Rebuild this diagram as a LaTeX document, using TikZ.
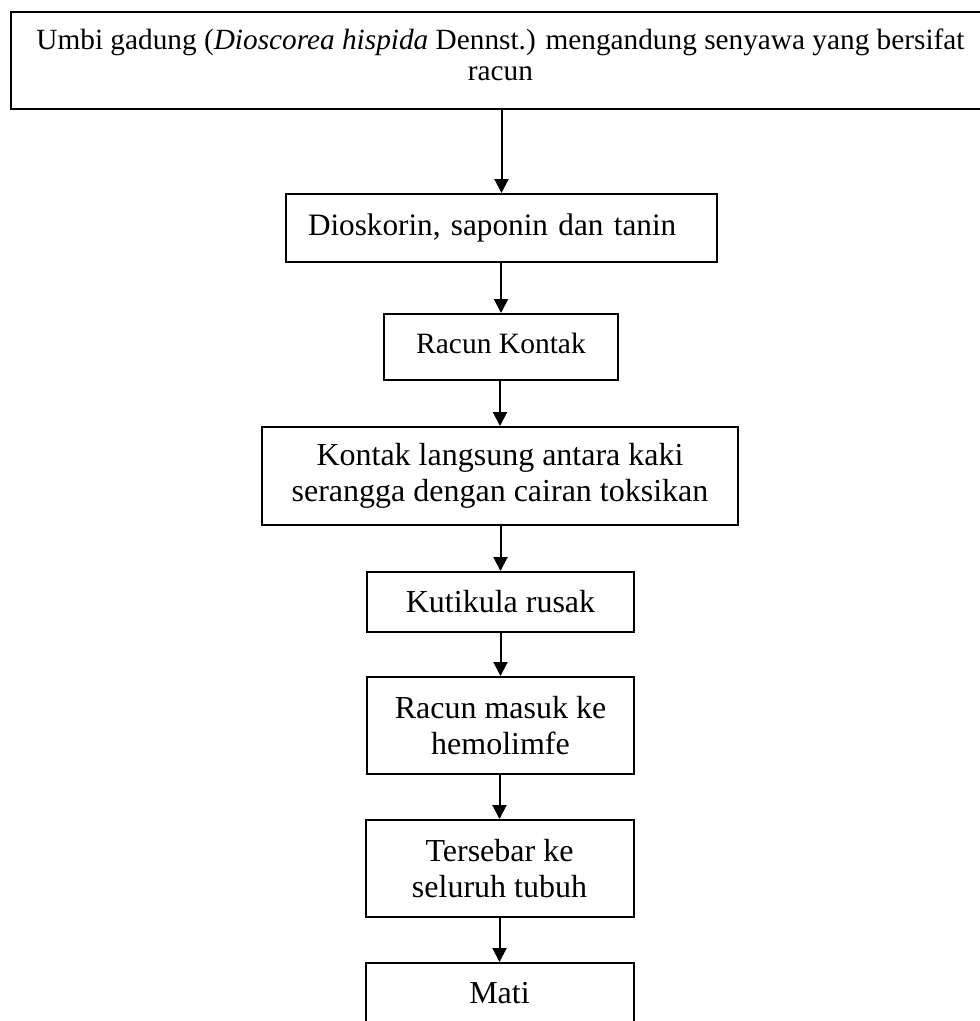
\documentclass[tikz,border=0pt]{standalone}
\usepackage{fontspec}
\setmainfont{Liberation Serif}
\usetikzlibrary{arrows.meta}
\begin{document}
\begin{tikzpicture}[x=1pt,y=-1pt,
  box/.style={draw=black, line width=2pt, align=center, inner sep=0pt,
    font=\fontsize{32}{36}\selectfont},
  flow/.style={line width=2pt, -{Triangle[length=14pt,width=14pt]}}]
\clip (0,0) rectangle (980,1021);
\fill[white] (0,0) rectangle (980,1021);
\node[box, minimum width=979pt, minimum height=97pt, text depth=12pt, font=\fontsize{29.3}{31}\selectfont] (top) at (500.5,60.5)
  {Umbi gadung (\textit{Dioscorea hispida} Dennst.) mengandung senyawa yang bersifat\\racun};
\node[box, text width=387pt, align=left, inner xsep=22pt, minimum height=68pt, font=\fontsize{31.2}{36}\selectfont] (b2) at (501.5,228)
  {Dioskorin, saponin dan tanin};
\node[box, minimum width=234pt, minimum height=66pt, text depth=8pt, font=\fontsize{29.5}{36}\selectfont] (b3) at (501,347) {Racun Kontak};
\node[box, minimum width=476pt, minimum height=98pt] (b4) at (500,476)
  {Kontak langsung antara kaki\\serangga dengan cairan toksikan};
\node[box, minimum width=267pt, minimum height=60pt] (b5) at (500.5,602) {Kutikula rusak};
\node[box, minimum width=267pt, minimum height=97pt] (b6) at (500.5,725.5) {Racun masuk ke\\hemolimfe};
\node[box, minimum width=268pt, minimum height=97pt] (b7) at (499.5,868.5) {Tersebar ke\\seluruh tubuh};
\node[box, minimum width=268pt, minimum height=60pt] (b8) at (499.5,993) {Mati};
\draw[flow] (top.south -| b2.north) -- (b2.north);
\draw[flow] (b2.south -| b3.north) -- (b3.north);
\draw[flow] (b3.south -| b4.north) -- (b4.north);
\draw[flow] (b4.south -| b5.north) -- (b5.north);
\draw[flow] (b5.south -| b6.north) -- (b6.north);
\draw[flow] (b6.south -| b7.north) -- (b7.north);
\draw[flow] (b7.south -| b8.north) -- (b8.north);
\end{tikzpicture}
\end{document}
